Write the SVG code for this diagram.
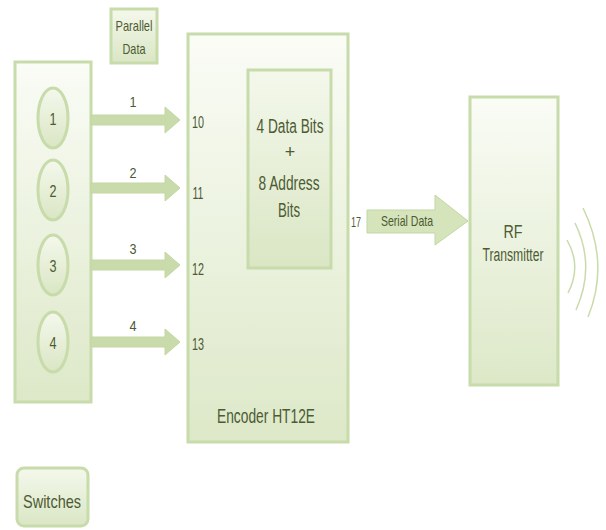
<svg xmlns="http://www.w3.org/2000/svg" width="606" height="530" viewBox="0 0 606 530">
<style>
.box{stroke:#c8dbaa;stroke-width:3}
.t{font-family:"Liberation Sans",Arial,sans-serif;fill:#4c5b33;text-anchor:middle;dominant-baseline:central}
.arr{fill:#c9dbab;stroke:#c3d7a3;stroke-width:1}
.wave{fill:none;stroke:#c8dbaa;stroke-width:1.5}
</style>
<defs>
<linearGradient id="g" x1="0" y1="0" x2="0" y2="1">
<stop offset="0" stop-color="#fafcf6"/>
<stop offset="1" stop-color="#dde8c8"/>
</linearGradient>
<linearGradient id="gs" x1="0" y1="0" x2="0" y2="1">
<stop offset="0" stop-color="#f4f8ec"/>
<stop offset="1" stop-color="#dae6c4"/>
</linearGradient>
</defs>
<rect width="606" height="530" fill="#ffffff"/>

<g id="parallel-data">
<rect class="box" x="111" y="9" width="46" height="54" fill="url(#gs)"/>
<text class="t" x="134" y="25" font-size="15" textLength="37" lengthAdjust="spacingAndGlyphs">Parallel</text>
<text class="t" x="134" y="48" font-size="15" textLength="23" lengthAdjust="spacingAndGlyphs">Data</text>
</g>

<g id="switch-panel">
<rect class="box" x="15" y="62" width="76" height="340" fill="url(#g)"/>
</g>
<g id="switch-1">
<ellipse class="box" cx="53" cy="118" rx="15" ry="30" fill="url(#gs)"/>
<text class="t" x="53" y="119" font-size="16" textLength="7" lengthAdjust="spacingAndGlyphs">1</text>
</g>
<g id="switch-2">
<ellipse class="box" cx="53" cy="190" rx="15" ry="30" fill="url(#gs)"/>
<text class="t" x="53" y="191" font-size="16" textLength="7" lengthAdjust="spacingAndGlyphs">2</text>
</g>
<g id="switch-3">
<ellipse class="box" cx="53" cy="265" rx="15" ry="30" fill="url(#gs)"/>
<text class="t" x="53" y="266" font-size="16" textLength="7" lengthAdjust="spacingAndGlyphs">3</text>
</g>
<g id="switch-4">
<ellipse class="box" cx="53" cy="342" rx="15" ry="30" fill="url(#gs)"/>
<text class="t" x="53" y="343" font-size="16" textLength="7" lengthAdjust="spacingAndGlyphs">4</text>
</g>

<g id="encoder">
<rect class="box" x="188" y="34" width="160" height="408" fill="url(#g)"/>
<text class="t" x="198" y="122" font-size="16" textLength="12" lengthAdjust="spacingAndGlyphs">10</text>
<text class="t" x="198" y="193" font-size="16" textLength="11" lengthAdjust="spacingAndGlyphs">11</text>
<text class="t" x="198" y="269" font-size="16" textLength="12" lengthAdjust="spacingAndGlyphs">12</text>
<text class="t" x="198" y="344" font-size="16" textLength="12" lengthAdjust="spacingAndGlyphs">13</text>
<text class="t" x="266" y="416" font-size="20" textLength="98" lengthAdjust="spacingAndGlyphs">Encoder HT12E</text>
</g>

<g id="data-bits">
<rect class="box" x="248" y="70" width="83" height="198" fill="url(#gs)"/>
<text class="t" x="290" y="126" font-size="20" textLength="67" lengthAdjust="spacingAndGlyphs">4 Data Bits</text>
<text class="t" x="290" y="152" font-size="18">+</text>
<text class="t" x="289" y="183" font-size="20" textLength="61" lengthAdjust="spacingAndGlyphs">8 Address</text>
<text class="t" x="289" y="210" font-size="20" textLength="22" lengthAdjust="spacingAndGlyphs">Bits</text>
</g>

<g id="rf-transmitter">
<rect class="box" x="470" y="97" width="88" height="288" fill="url(#g)"/>
<text class="t" x="513" y="232" font-size="18" textLength="19" lengthAdjust="spacingAndGlyphs">RF</text>
<text class="t" x="513" y="255" font-size="18" textLength="61" lengthAdjust="spacingAndGlyphs">Transmitter</text>
<path class="wave" d="M567 240 Q582 266 568 293"/>
<path class="wave" d="M575 223 Q596 266 576 310"/>
<path class="wave" d="M583 208 Q610 263 588 317"/>
</g>

<g id="switches-label">
<rect class="box" x="17" y="468" width="71" height="58" rx="7" fill="url(#gs)"/>
<text class="t" x="52" y="501" font-size="19" textLength="58" lengthAdjust="spacingAndGlyphs">Switches</text>
</g>

<g id="connectors">
<polygon class="arr" points="91,115 165,115 165,107 180,120 165,133 165,125 91,125"/>
<polygon class="arr" points="91,183 165,183 165,175 180,188 165,201 165,193 91,193"/>
<polygon class="arr" points="91,260 165,260 165,252 180,265 165,278 165,270 91,270"/>
<polygon class="arr" points="91,337 165,337 165,329 180,342 165,355 165,347 91,347"/>
<text class="t" x="133" y="101" font-size="15" textLength="7" lengthAdjust="spacingAndGlyphs">1</text>
<text class="t" x="133" y="172" font-size="15" textLength="7" lengthAdjust="spacingAndGlyphs">2</text>
<text class="t" x="133" y="248" font-size="15" textLength="7" lengthAdjust="spacingAndGlyphs">3</text>
<text class="t" x="133" y="325" font-size="15" textLength="7" lengthAdjust="spacingAndGlyphs">4</text>
<text class="t" x="356" y="221" font-size="15" textLength="10" lengthAdjust="spacingAndGlyphs">17</text>
<polygon class="arr" points="367,210 435,210 435,195 468,221 435,245 435,233 367,233" style="fill:#d5e4bb"/>
<text class="t" x="407" y="220" font-size="15" textLength="52" lengthAdjust="spacingAndGlyphs">Serial Data</text>
</g>
</svg>
